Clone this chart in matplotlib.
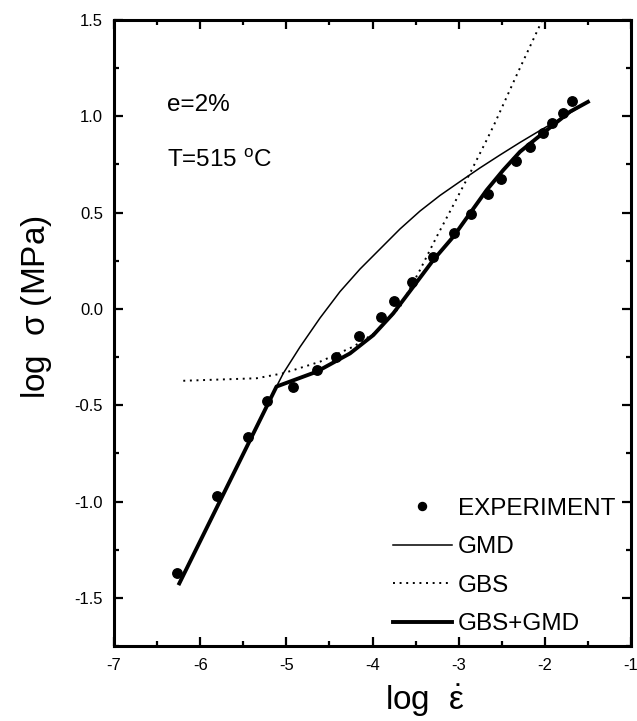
import matplotlib
matplotlib.use("Agg")
import matplotlib.pyplot as plt
from matplotlib.ticker import MultipleLocator, FuncFormatter

plt.rcParams['font.family'] = ['Liberation Sans', 'DejaVu Sans']
plt.rcParams['mathtext.fontset'] = 'custom'
plt.rcParams['mathtext.rm'] = 'Liberation Sans'
plt.rcParams['mathtext.it'] = 'Liberation Sans'

# Experimental data
exp_x = [-6.272, -5.808, -5.441, -5.228, -4.919, -4.648, -4.424, -4.160, -3.905, -3.751,
         -3.538, -3.294, -3.054, -2.860, -2.663, -2.512, -2.335, -2.172, -2.018, -1.921,
         -1.793, -1.685]
exp_y = [-1.370, -0.970, -0.664, -0.477, -0.404, -0.317, -0.248, -0.139, -0.041, 0.041,
         0.141, 0.268, 0.393, 0.491, 0.595, 0.673, 0.768, 0.842, 0.915, 0.964,
         1.019, 1.079]

# GMD model (thin line)
gmd_x = [-6.242, -5.114, -5.035, -4.842, -4.609, -4.377, -4.145, -3.913, -3.681, -3.449,
         -3.217, -2.985, -2.753, -2.521, -2.289, -2.057, -1.825, -1.500]
gmd_y = [-1.425, -0.403, -0.334, -0.198, -0.047, 0.090, 0.207, 0.311, 0.415, 0.508,
         0.589, 0.661, 0.732, 0.799, 0.864, 0.926, 0.986, 1.074]

# GBS model (dotted line)
gbs_x = [-6.196, -5.344, -5.035, -4.609, -4.223, -3.951, -3.681, -3.449, -3.255, -3.062,
         -2.869, -2.675, -2.590, -2.327, -2.056, -2.030]
gbs_y = [-0.373, -0.360, -0.334, -0.274, -0.196, -0.118, 0.011, 0.202, 0.375, 0.539,
         0.704, 0.877, 0.955, 1.214, 1.474, 1.500]

# GBS+GMD model (thick line)
sum_x = [-6.242, -5.114, -4.648, -4.261, -3.991, -3.759, -3.527, -3.294, -3.062, -2.869,
         -2.675, -2.482, -2.288, -2.095, -1.902, -1.708, -1.500]
sum_y = [-1.425, -0.403, -0.326, -0.231, -0.136, -0.023, 0.115, 0.254, 0.375, 0.496,
         0.617, 0.721, 0.816, 0.886, 0.955, 1.024, 1.075]

fig = plt.figure(figsize=(6.37, 7.21), dpi=100)
ax = fig.add_axes([114 / 637, 1 - 646 / 721, 517 / 637, 626 / 721])

ax.plot(exp_x, exp_y, 'o', color='black', markersize=6.8, linestyle='none', label='EXPERIMENT', zorder=5)
ax.plot(gmd_x, gmd_y, '-', color='black', lw=1.1, label='GMD')
ax.plot(gbs_x, gbs_y, color='black', lw=1.4, linestyle=(0, (1, 2.4)), label='GBS')
ax.plot(sum_x, sum_y, '-', color='black', lw=2.8, label='GBS+GMD')

ax.set_xlim(-7, -1)
ax.set_ylim(-1.75, 1.5)
ax.xaxis.set_major_locator(MultipleLocator(1))
ax.xaxis.set_minor_locator(MultipleLocator(0.5))
ax.yaxis.set_major_locator(MultipleLocator(0.5))
ax.yaxis.set_minor_locator(MultipleLocator(0.25))
ax.xaxis.set_major_formatter(FuncFormatter(lambda v, p: f"{v:.0f}"))
ax.yaxis.set_major_formatter(FuncFormatter(lambda v, p: f"{v:.1f}"))

ax.tick_params(which='both', direction='in', top=True, right=True, width=1.6, labelsize=12)
ax.tick_params(which='major', length=6.5)
ax.tick_params(axis='x', which='major', pad=9)
ax.tick_params(axis='y', which='major', pad=8)
ax.tick_params(which='minor', length=3.5)
for s in ax.spines.values():
    s.set_linewidth(2.2)

ax.set_xlabel(r'log  $\dot{\varepsilon}$', fontsize=24)
ax.xaxis.set_label_coords((425 - 114) / 517, (646 - 683) / 626)
ax.set_ylabel(r'log  $\sigma$ (MPa)', fontsize=24)
ax.yaxis.set_label_coords((54 - 114) / 517, (646 - 307) / 626)

ax.text(-6.385, 1.059, 'e=2%', fontsize=17.5, va='center', ha='left')
ax.text(-6.385, 0.77, r'T=515 $^{\mathregular{o}}$C', fontsize=17.5, va='center', ha='left')

leg = ax.legend(loc='upper left', bbox_to_anchor=(0.54, 0.237), frameon=False, fontsize=17.5,
                handlelength=2.4, handletextpad=0.25, labelspacing=0.68, borderpad=0,
                borderaxespad=0, markerscale=0.85)

fig.savefig('out.png', dpi=100)
